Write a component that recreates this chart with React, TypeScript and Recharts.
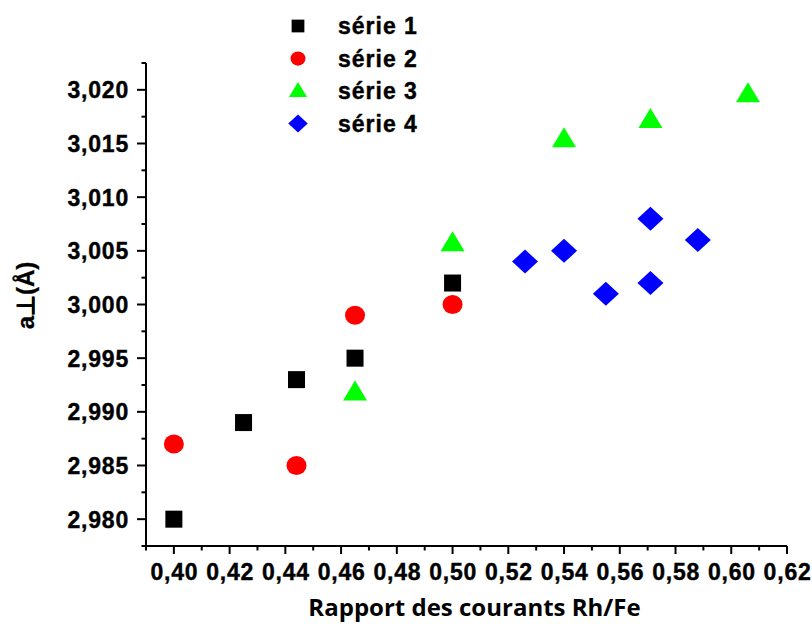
import React from 'react';
import { ScatterChart, Scatter, XAxis, YAxis, Legend } from 'recharts';

const serie1X = [0.4, 0.425, 0.444, 0.465, 0.5];
const serie1Y = [2.98, 2.989, 2.993, 2.995, 3.002];
const serie2X = [0.4, 0.444, 0.465, 0.5];
const serie2Y = [2.987, 2.985, 2.999, 3.0];
const serie3X = [0.465, 0.5, 0.54, 0.571, 0.606];
const serie3Y = [2.9918, 3.0057, 3.0154, 3.0172, 3.0196];
const serie4X = [0.526, 0.54, 0.555, 0.571, 0.571, 0.588];
const serie4Y = [3.004, 3.005, 3.001, 3.008, 3.002, 3.006];

const xMajor = [0.4, 0.42, 0.44, 0.46, 0.48, 0.5, 0.52, 0.54, 0.56, 0.58, 0.6, 0.62];
const xMinor = [0.39, 0.41, 0.43, 0.45, 0.47, 0.49, 0.51, 0.53, 0.55, 0.57, 0.59, 0.61];
const yMajor = [2.98, 2.985, 2.99, 2.995, 3.0, 3.005, 3.01, 3.015, 3.02];
const yMinor = [2.9775, 2.9825, 2.9875, 2.9925, 2.9975, 3.0025, 3.0075, 3.0125, 3.0175, 3.0225];

const seriesNames = ['série 1', 'série 2', 'série 3', 'série 4'];
const seriesColors = ['#000000', '#ff0000', '#00ff00', '#0000ff'];

const zip = (xs: number[], ys: number[]) => xs.map((x, i) => ({ x, y: ys[i] }));
const data1 = zip(serie1X, serie1Y);
const data2 = zip(serie2X, serie2Y);
const data3 = zip(serie3X, serie3Y);
const data4 = zip(serie4X, serie4Y);

const allX = [...xMinor, ...xMajor].sort((a, b) => a - b);
const allY = [...yMinor, ...yMajor].sort((a, b) => a - b);

const isMajor = (v: number, arr: number[]) => arr.some((m) => Math.abs(m - v) < 1e-9);
const fmt = (v: number, d: number) => v.toFixed(d).replace('.', ',');

const FONT = '"Liberation Sans", Arial, sans-serif';

const drawShape = (kind: number, cx: number, cy: number, color: string, s = 1) => {
  if (kind === 0) {
    const h = 8.5 * s;
    return <rect x={cx - h} y={cy - h} width={2 * h} height={2 * h} fill={color} />;
  }
  if (kind === 1) {
    return <ellipse cx={cx} cy={cy} rx={10 * s} ry={9.5 * s} fill={color} />;
  }
  if (kind === 2) {
    const w = 12 * s;
    const h = 20 * s;
    return (
      <polygon
        points={`${cx},${cy - h * 0.6} ${cx + w},${cy + h * 0.4} ${cx - w},${cy + h * 0.4}`}
        fill={color}
      />
    );
  }
  const w = 13 * s;
  const h = 12 * s;
  return (
    <polygon points={`${cx},${cy - h} ${cx + w},${cy} ${cx},${cy + h} ${cx - w},${cy}`} fill={color} />
  );
};

const makeShape = (kind: number) => (props: any) => {
  const { cx, cy } = props;
  if (cx == null || cy == null) return <g />;
  return drawShape(kind, cx, cy, seriesColors[kind]);
};

const XTick = (props: any) => {
  const { x, y, payload } = props;
  const v = payload.value;
  const major = isMajor(v, xMajor);
  return (
    <g>
      <line x1={x} x2={x} y1={y} y2={y + (major ? 8 : 4.5)} stroke="#000" strokeWidth={2} />
      {major && (
        <text
          x={x + 0.6}
          y={y + 34}
          textAnchor="middle"
          fontFamily={FONT}
          fontWeight="bold"
          fontSize={23}
          letterSpacing={0.8}
          stroke="#000"
          strokeWidth={0.4}
          fill="#000"
        >
          {fmt(v, 2)}
        </text>
      )}
    </g>
  );
};

const YTick = (props: any) => {
  const { x, y, payload } = props;
  const v = payload.value;
  const major = isMajor(v, yMajor);
  return (
    <g>
      <line x1={x} x2={x - (major ? 9 : 4.5)} y1={y} y2={y} stroke="#000" strokeWidth={2} />
      {major && (
        <text
          x={x - 17}
          y={y + 8.5}
          textAnchor="end"
          fontFamily={FONT}
          fontWeight="bold"
          fontSize={23}
          letterSpacing={0.8}
          stroke="#000"
          strokeWidth={0.4}
          fill="#000"
        >
          {fmt(v, 3)}
        </text>
      )}
    </g>
  );
};

const LegendContent = () => (
  <svg width={220} height={140}>
    {seriesNames.map((n, i) => {
      const cy = 26 + i * 32.5;
      return (
        <g key={n}>
          {drawShape(i, 68, cy, seriesColors[i], 0.75)}
          <text
            x={108}
            y={cy + 8}
            fontFamily={FONT}
            fontWeight="bold"
            fontSize={23}
            letterSpacing={1}
            stroke="#000"
            strokeWidth={0.4}
            fill="#000"
          >
            {n}
          </text>
        </g>
      );
    })}
  </svg>
);

const XTitle = (props: any) => {
  const vb = props.viewBox;
  return (
    <text
      x={vb.x + vb.width / 2 + 8}
      y={616}
      textAnchor="middle"
      fontFamily='"Open Sans", Lato, sans-serif'
      fontWeight="bold"
      fontSize={24}
      fill="#000"
    >
      Rapport des courants Rh/Fe
    </text>
  );
};

const YTitle = (props: any) => {
  const vb = props.viewBox;
  const cy = vb.y + vb.height / 2 - 9;
  return (
    <text
      x={34}
      y={cy}
      transform={`rotate(-90, 34, ${cy})`}
      textAnchor="middle"
      fontFamily={FONT}
      fontWeight="bold"
      fontSize={24}
      stroke="#000"
      strokeWidth={0.3}
      fill="#000"
    >
      a⊥(Å)
    </text>
  );
};

export default function App() {
  return (
    <div style={{ position: 'absolute', left: 0, top: 0, width: 812, height: 624, background: '#fff' }}>
      <ScatterChart width={812} height={624} margin={{ top: 63, right: 25, bottom: 18, left: 46 }}>
        <XAxis
          type="number"
          dataKey="x"
          domain={[0.39, 0.62]}
          ticks={allX}
          interval={0}
          tick={<XTick />}
          tickLine={false}
          tickSize={0}
          tickMargin={0}
          height={60}
          allowDataOverflow
          axisLine={{ stroke: '#000', strokeWidth: 2 }}
          label={<XTitle />}
        />
        <YAxis
          type="number"
          dataKey="y"
          domain={[2.9775, 3.0225]}
          ticks={allY}
          interval={0}
          tick={<YTick />}
          tickLine={false}
          tickSize={0}
          tickMargin={0}
          width={100}
          allowDataOverflow
          axisLine={{ stroke: '#000', strokeWidth: 2 }}
          label={<YTitle />}
        />
        <Legend
          layout="vertical"
          align="center"
          verticalAlign="middle"
          content={<LegendContent />}
          wrapperStyle={{ left: 230, top: 0, width: 220, height: 140 }}
        />
        <Scatter name="série 1" data={data1} shape={makeShape(0)} isAnimationActive={false} />
        <Scatter name="série 2" data={data2} shape={makeShape(1)} isAnimationActive={false} />
        <Scatter name="série 3" data={data3} shape={makeShape(2)} isAnimationActive={false} />
        <Scatter name="série 4" data={data4} shape={makeShape(3)} isAnimationActive={false} />
      </ScatterChart>
    </div>
  );
}
